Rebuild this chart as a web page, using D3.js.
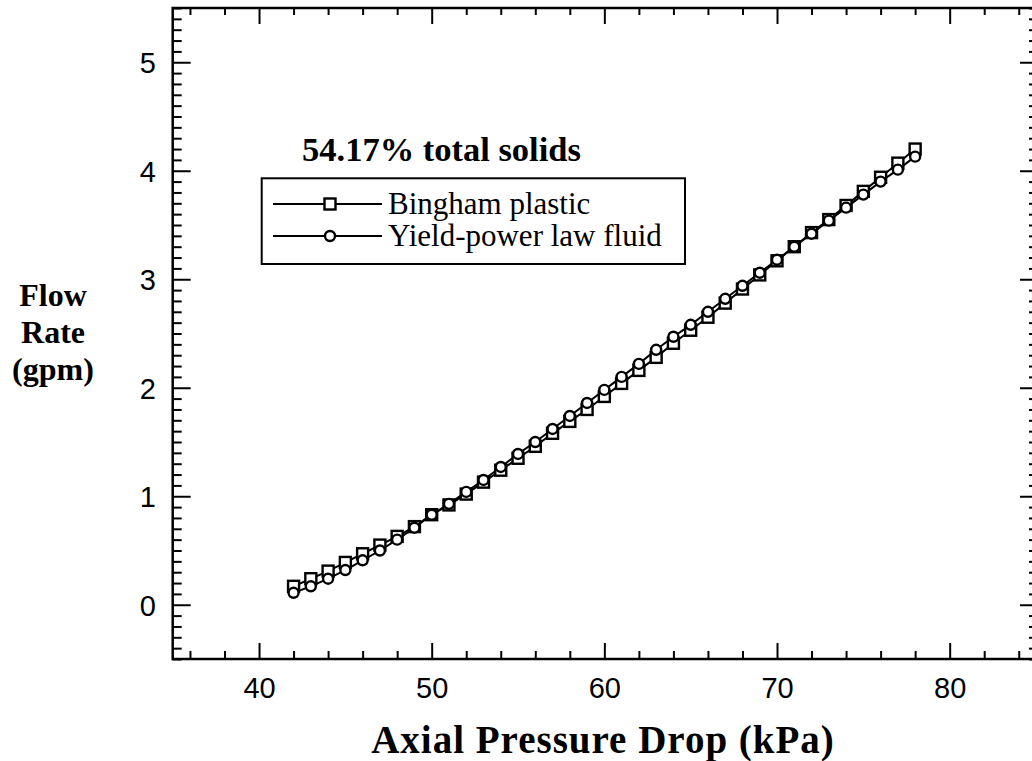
<!DOCTYPE html>
<html>
<head>
<meta charset="utf-8">
<script src="https://cdn.jsdelivr.net/npm/d3@7"></script>
<style>
  body { margin: 0; background: #fff; }
  svg { display: block; }
</style>
</head>
<body>
<svg id="chart" width="1032" height="761"></svg>
<script>
// Axial pressure drop (kPa) at which each flow rate was computed
const pressureKPa = [42, 43, 44, 45, 46, 47, 48, 49, 50, 51, 52, 53, 54, 55, 56, 57, 58, 59, 60,
                     61, 62, 63, 64, 65, 66, 67, 68, 69, 70, 71, 72, 73, 74, 75, 76, 77, 78];

// Flow rate (gpm), Bingham plastic model
const binghamGpm = [0.17, 0.24, 0.31, 0.39, 0.47, 0.55, 0.63, 0.72, 0.83, 0.92, 1.02, 1.13, 1.24,
                    1.35, 1.46, 1.58, 1.69, 1.80, 1.92, 2.04, 2.16, 2.28, 2.41, 2.53, 2.65, 2.78,
                    2.91, 3.04, 3.17, 3.30, 3.43, 3.55, 3.68, 3.81, 3.94, 4.07, 4.20];

// Flow rate (gpm), yield-power law model
const yieldPowerGpm = [0.11, 0.17, 0.24, 0.32, 0.41, 0.50, 0.60, 0.71, 0.83, 0.93, 1.04, 1.15, 1.27,
                       1.39, 1.50, 1.62, 1.74, 1.86, 1.98, 2.10, 2.22, 2.35, 2.47, 2.58, 2.70, 2.82,
                       2.94, 3.06, 3.18, 3.30, 3.42, 3.54, 3.66, 3.78, 3.90, 4.01, 4.13];

const xTickValues = [40, 50, 60, 70, 80];
const yTickValues = [0, 1, 2, 3, 4, 5];
const seriesNames = ["Bingham plastic", "Yield-power law fluid"];
const chartTitle = "54.17% total solids";
const xTitle = "Axial Pressure Drop (kPa)";
const yTitleLines = ["Flow", "Rate", "(gpm)"];

const svg = d3.select("#chart");
const SANS = "'Liberation Sans', Arial, Helvetica, sans-serif";
const SERIF = "'Liberation Serif', 'Times New Roman', Times, serif";

const plot = { left: 172.7, right: 1036, top: 8, bottom: 659 };

const x = d3.scaleLinear().domain([35, 85]).range([plot.left, plot.right]);
const y = d3.scaleLinear().domain([-0.5, 5.5]).range([plot.bottom, plot.top]);

const xMinor = d3.range(36, 85, 2).filter(v => v % 10 !== 0);
const yMinor = d3.range(-5, 56).map(v => v / 10).filter(v => Math.abs(v - Math.round(v)) > 1e-9);

// Axis frame: ticks point inward on all four sides
function drawAxis(axisFn, scale, major, minor, majorLen, minorLen, transform, showLabels) {
  const gMinor = svg.append("g").attr("transform", transform)
    .call(axisFn(scale).tickValues(minor).tickSize(minorLen).tickFormat(""));
  gMinor.select(".domain").remove();
  const g = svg.append("g").attr("transform", transform)
    .call(axisFn(scale).tickValues(major).tickSize(majorLen).tickPadding(0)
      .tickFormat(showLabels ? d3.format("d") : ""));
  g.select(".domain").remove();
  [gMinor, g].forEach(gg => gg.selectAll(".tick line").attr("stroke", "#000").attr("stroke-width", 2));
  return g;
}

// bottom
const gx = drawAxis(d3.axisTop, x, xTickValues, xMinor, 16, 8, `translate(0,${plot.bottom})`, true);
gx.selectAll(".tick text")
  .attr("y", 0).attr("dy", 0)
  .attr("transform", `translate(0,${698 - plot.bottom})`)
  .attr("font-family", SANS).attr("font-size", 29).attr("fill", "#000");
// top
drawAxis(d3.axisBottom, x, xTickValues, xMinor, 16, 7, `translate(0,${plot.top})`, false);
// left
const gy = drawAxis(d3.axisRight, y, yTickValues, yMinor, 18, 9, `translate(${plot.left},0)`, true);
gy.selectAll(".tick text")
  .attr("x", 156 - plot.left).attr("dy", "0.36em")
  .attr("text-anchor", "end")
  .attr("font-family", SANS).attr("font-size", 29).attr("fill", "#000");
// right
drawAxis(d3.axisLeft, y, yTickValues, yMinor, 16, 7, `translate(${plot.right},0)`, false);

svg.append("rect")
  .attr("x", plot.left).attr("y", plot.top)
  .attr("width", plot.right - plot.left).attr("height", plot.bottom - plot.top)
  .attr("fill", "none").attr("stroke", "#000").attr("stroke-width", 2.5);

// Series
const series = [
  { name: seriesNames[0], values: binghamGpm, marker: "square" },
  { name: seriesNames[1], values: yieldPowerGpm, marker: "circle" }
];

const line = d3.line().x(d => x(d[0])).y(d => y(d[1]));

series.forEach(s => {
  svg.append("path")
    .datum(pressureKPa.map((p, i) => [p, s.values[i]]))
    .attr("d", line)
    .attr("fill", "none").attr("stroke", "#000").attr("stroke-width", 2);
});

function drawMarker(g, kind, cx, cy) {
  if (kind === "square") {
    g.append("rect").attr("x", cx - 5.5).attr("y", cy - 5.5).attr("width", 11).attr("height", 11)
      .attr("fill", "#fff").attr("stroke", "#000").attr("stroke-width", 2.4);
  } else {
    g.append("circle").attr("cx", cx).attr("cy", cy).attr("r", 5)
      .attr("fill", "#fff").attr("stroke", "#000").attr("stroke-width", 2.4);
  }
}

series.forEach(s => {
  const g = svg.append("g");
  pressureKPa.forEach((p, i) => drawMarker(g, s.marker, x(p), y(s.values[i])));
});

// Title inside the plot
svg.append("text")
  .attr("x", 302).attr("y", 161)
  .attr("font-family", SERIF).attr("font-weight", "bold").attr("font-size", 34.5)
  .text(chartTitle);

// Legend
svg.append("rect")
  .attr("x", 261.7).attr("y", 178.3).attr("width", 685 - 261.7).attr("height", 264 - 178.3)
  .attr("fill", "#fff").attr("stroke", "#000").attr("stroke-width", 2);

const legendRows = [204, 236];
series.forEach((s, i) => {
  const ly = legendRows[i];
  const g = svg.append("g");
  g.append("line").attr("x1", 273).attr("x2", 382).attr("y1", ly).attr("y2", ly)
    .attr("stroke", "#000").attr("stroke-width", 2);
  drawMarker(g, s.marker, 330, ly);
  g.append("text")
    .attr("x", 388).attr("y", ly + 10)
    .attr("font-family", SERIF).attr("font-size", 31)
    .text(s.name);
});

// Axis titles
svg.append("text")
  .attr("x", 603).attr("y", 753)
  .attr("text-anchor", "middle")
  .attr("font-family", SERIF).attr("font-weight", "bold").attr("font-size", 39)
  .attr("letter-spacing", 1)
  .text(xTitle);

const yt = svg.append("text")
  .attr("text-anchor", "middle")
  .attr("font-family", SERIF).attr("font-weight", "bold").attr("font-size", 32);
yTitleLines.forEach((t, i) => {
  yt.append("tspan").attr("x", 53).attr("y", 306 + i * 37).text(t);
});
</script>
</body>
</html>
